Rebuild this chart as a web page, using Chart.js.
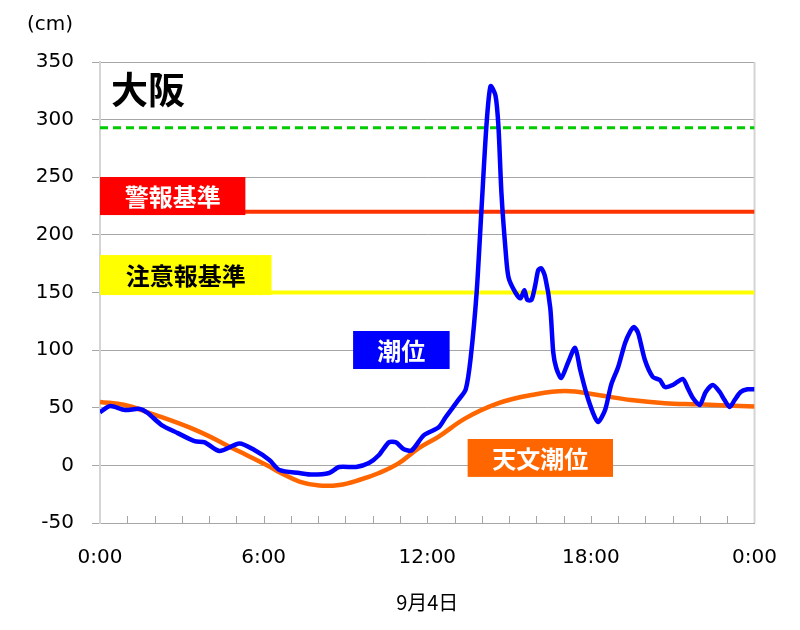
<!DOCTYPE html>
<html>
<head>
<meta charset="utf-8">
<script src="https://cdn.jsdelivr.net/npm/chart.js@4/dist/chart.umd.min.js"></script>
<style>
html,body{margin:0;padding:0;background:#fff;}
#wrap{width:800px;height:630px;position:relative;}
</style>
</head>
<body>
<div id="wrap"><canvas id="c" width="800" height="630"></canvas></div>
<script>
// ---- data (hours since 0:00, cm) ----
const tideHours = [0.00,0.37,0.91,1.46,1.75,2.26,2.85,3.47,3.84,4.38,5.11,5.66,6.21,6.58,7.31,7.78,8.40,8.77,9.39,9.86,10.23,10.59,10.85,11.14,11.43,11.87,12.42,12.68,13.15,13.41,13.59,13.81,13.99,14.17,14.32,14.50,14.61,14.72,14.87,14.98,15.23,15.42,15.56,15.67,15.82,15.96,16.07,16.18,16.33,16.51,16.62,16.73,16.91,17.17,17.42,17.61,17.83,18.08,18.26,18.52,18.74,19.00,19.25,19.43,19.58,19.73,19.98,20.27,20.53,20.71,21.00,21.37,21.55,21.74,21.99,22.21,22.47,22.72,22.90,23.09,23.27,23.49,23.74,24.00];
const tideValues = [46,51.5,48,49,45.4,35,28,21,20,12.5,19,13.3,4.7,-4,-6.6,-8,-6.6,-1.4,-1.4,2,9,20,20,14,13,26,33,42,57,66,93,150,223,295,329,321,294,236,187,163,150,145,152,143.5,143.5,156.5,169.5,171,162.6,136.5,98,84.5,75.8,89.7,102,82.7,62.8,45.4,37.6,48,69.7,85.4,106,115.7,120,115,91.4,76.7,74,68,69.7,75,67,58.5,52.4,63.7,69.7,63.7,56.7,50.6,56.7,63.7,66,66];
const astroHours = [0,0.91,1.75,3.47,5.11,6.21,6.58,7.31,8.04,8.77,9.50,10.23,10.96,11.69,12.42,13.41,14.61,15.82,17.06,18.26,19.47,20.71,21.92,24];
const astroValues = [55,52.4,46,31,12,-1,-6,-14,-17.5,-17,-12.7,-6.6,2,15,25,41,54,61,64.5,61,56.7,54,53,51];
const levelNames = ['過去最高潮位','警報基準','注意報基準'];
const levelValues = [293,220,150];
const xTickHours = [0,6,12,18,24];
const yMin = -50, yMax = 350, yStep = 50;
const stationName = '大阪';
const tideLabel = '潮位';
const astroLabel = '天文潮位';
const dateLabel = '9月4日';
const unitLabel = '(cm)';

const toPts = (xs, ys) => xs.map((x, i) => ({x: x, y: ys[i]}));
const levelPts = v => [{x: 0, y: v}, {x: 24, y: v}];

const JP = '"Noto Sans CJK JP","Noto Sans",sans-serif';
const NUM = '"DejaVu Sans",Verdana,sans-serif';

const decor = {
  id: 'decor',
  beforeDatasetsDraw(chart) {
    const ctx = chart.ctx, a = chart.chartArea;
    const xs = chart.scales.x;
    ctx.save();
    ctx.strokeStyle = '#d4d4d4';
    ctx.lineWidth = 2;
    ctx.beginPath();
    ctx.moveTo(a.right, a.top);
    ctx.lineTo(a.right, a.bottom);
    ctx.stroke();
    ctx.strokeStyle = '#a6a6a6';
    ctx.lineWidth = 1;
    for (let h = 1; h < 24; h++) {
      const px = Math.round(xs.getPixelForValue(h)) + 0.5;
      ctx.beginPath();
      ctx.moveTo(px, a.bottom - 7);
      ctx.lineTo(px, a.bottom);
      ctx.stroke();
    }
    ctx.restore();
  },
  afterDatasetsDraw(chart) {
    const ctx = chart.ctx, a = chart.chartArea;
    const xs = chart.scales.x, ys = chart.scales.y;
    const box = (h0, h1, v0, v1, bg, txt, col, size) => {
      const x0 = xs.getPixelForValue(h0), x1 = xs.getPixelForValue(h1);
      const y0 = ys.getPixelForValue(v0), y1 = ys.getPixelForValue(v1);
      ctx.fillStyle = bg;
      ctx.fillRect(x0, y0, x1 - x0, y1 - y0);
      ctx.fillStyle = col;
      ctx.font = 'bold ' + size + 'px ' + JP;
      ctx.textAlign = 'center';
      ctx.textBaseline = 'middle';
      ctx.fillText(txt, (x0 + x1) / 2, (y0 + y1) / 2 + 1);
    };
    ctx.save();
    box(0, 5.33, 250.2, 217.2, '#ff0000', levelNames[1], '#ffffff', 24);
    box(0, 6.29, 182.5, 147.8, '#ffff00', levelNames[2], '#000000', 24);
    box(9.28, 12.82, 116.6, 83.6, '#0000ff', tideLabel, '#ffffff', 24);
    box(13.48, 18.81, 22.9, -10, '#ff6600', astroLabel, '#ffffff', 24);
    ctx.fillStyle = '#000';
    ctx.font = 'bold 37px ' + JP;
    ctx.textAlign = 'left';
    ctx.textBaseline = 'middle';
    ctx.fillText(stationName, a.left + 11, 90);
    ctx.font = '20px ' + NUM;
    ctx.fillText(unitLabel, 27, 25);
    ctx.restore();
  }
};

new Chart(document.getElementById('c'), {
  type: 'line',
  data: {
    datasets: [
      {data: toPts(tideHours, tideValues), borderColor: '#0000ff', borderWidth: 4.5, tension: 0.25, order: 1},
      {data: toPts(astroHours, astroValues), borderColor: '#ff6600', borderWidth: 4.5, tension: 0.4, order: 2},
      {data: levelPts(levelValues[0]), borderColor: '#00cc00', borderWidth: 3, borderDash: [8, 5], order: 3},
      {data: levelPts(levelValues[1]), borderColor: '#ff3300', borderWidth: 4, order: 4},
      {data: levelPts(levelValues[2]), borderColor: '#ffff00', borderWidth: 4, order: 5}
    ]
  },
  options: {
    responsive: false,
    animation: false,
    devicePixelRatio: 1,
    layout: {padding: {top: 62, right: 40, left: 0, bottom: 0}},
    elements: {point: {radius: 0}, line: {borderCapStyle: 'butt'}},
    plugins: {legend: {display: false}, tooltip: {enabled: false}},
    scales: {
      x: {
        type: 'linear', min: 0, max: 24,
        afterFit: s => { s.height = 107; },
        afterBuildTicks: s => { s.ticks = xTickHours.map(v => ({value: v})); },
        grid: {display: false, drawTicks: false},
        border: {display: true, color: '#a6a6a6', width: 1},
        ticks: {
          autoSkip: false, maxRotation: 0, padding: 23,
          color: '#000', font: {family: NUM, size: 20},
          callback: v => (v % 24) + ':00'
        },
        title: {display: true, text: dateLabel, color: '#000', font: {family: JP, size: 20}, padding: {top: 0, bottom: 16}}
      },
      y: {
        min: yMin, max: yMax,
        afterFit: s => { s.width = 100; },
        grid: {color: '#a6a6a6', lineWidth: 1, tickLength: 8},
        border: {display: true, color: '#d4d4d4', width: 2},
        ticks: {stepSize: yStep, padding: 18, color: '#000', font: {family: NUM, size: 20}}
      }
    }
  },
  plugins: [decor]
});
</script>
</body>
</html>
